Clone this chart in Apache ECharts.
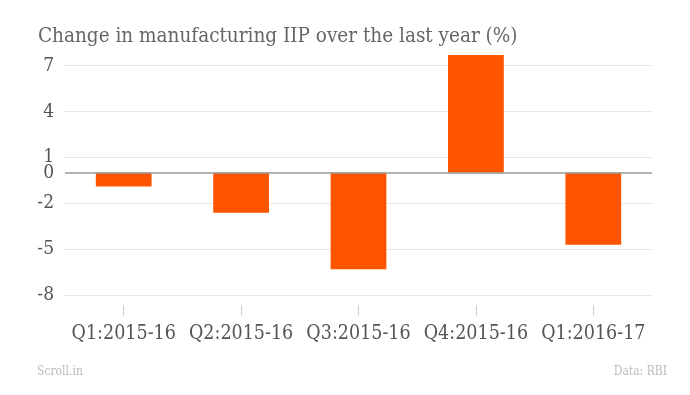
<!DOCTYPE html>
<html><head><meta charset="utf-8">
<script src="https://cdn.jsdelivr.net/npm/echarts@6/dist/echarts.min.js"></script>
<style>html,body{margin:0;padding:0;background:#fff}#c{width:690px;height:395px}</style>
</head><body><div id="c"></div>
<script>
const categories = ["Q1:2015-16","Q2:2015-16","Q3:2015-16","Q4:2015-16","Q1:2016-17"];
const values = [-0.9, -2.6, -6.3, 7.7, -4.7];
const yTicks = [-8, -5, -2, 1, 4, 7];
const FONT = "'DejaVu Serif Condensed', 'DejaVu Serif', serif";
const chart = echarts.init(document.getElementById('c'));
chart.setOption({
  animation: false,
  title: [
    {text: "Change in manufacturing IIP over the last year (%)", left: 33, top: 21,
     textStyle: {fontFamily: FONT, fontSize: 20.5, fontWeight: 'normal', color: '#666'}},
    {text: "Scroll.in", left: 32, top: 361,
     textStyle: {fontFamily: FONT, fontSize: 12, fontWeight: 'normal', color: '#bbb'}},
    {text: "Data: RBI", right: 18, top: 361,
     textStyle: {fontFamily: FONT, fontSize: 12, fontWeight: 'normal', color: '#bbb'}}
  ],
  grid: {left: 65, right: 38, top: 65.7, bottom: 99.7, containLabel: false},
  xAxis: {
    type: 'category', data: categories, offset: 10,
    axisLine: {show: false, onZero: false},
    axisTick: {show: true, alignWithLabel: true, interval: 0, length: 10, lineStyle: {color: '#ccc'}},
    axisLabel: {fontFamily: FONT, fontSize: 19.5, color: '#555', margin: 19, interval: 0}
  },
  yAxis: {
    type: 'value', min: yTicks[0], max: yTicks[yTicks.length-1], interval: 3,
    axisLine: {show: false}, axisTick: {show: false},
    axisLabel: {fontFamily: FONT, fontSize: 19, color: '#555', margin: 11},
    splitLine: {lineStyle: {color: '#e6e6e6', width: 1}}
  },
  series: [{
    type: 'bar', data: values, barWidth: '47.5%', clip: false,
    itemStyle: {color: '#ff5400'},
    markLine: {
      symbol: 'none', silent: true,
      lineStyle: {color: '#999', width: 1.5, type: 'solid'},
      label: {position: 'start', formatter: '0', fontFamily: FONT, fontSize: 19, color: '#555', distance: 11},
      data: [{yAxis: 0}]
    }
  }]
});
</script></body></html>
